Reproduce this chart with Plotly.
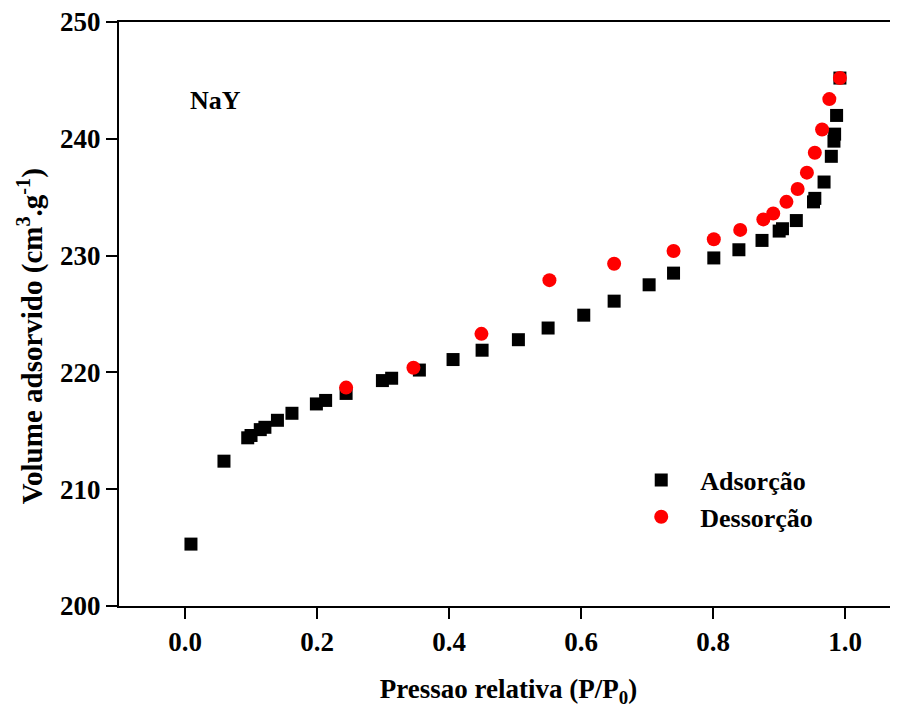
import plotly.graph_objects as go

ads_x = [0.009, 0.059, 0.095, 0.100, 0.114, 0.121, 0.140, 0.162, 0.199, 0.213, 0.244,
         0.299, 0.313, 0.355, 0.406, 0.450, 0.505, 0.550, 0.604, 0.650, 0.703, 0.740,
         0.801, 0.839, 0.874, 0.900, 0.905, 0.926, 0.952, 0.954, 0.968, 0.979, 0.983,
         0.984, 0.987, 0.992]
ads_y = [205.3, 212.4, 214.4, 214.6, 215.1, 215.3, 215.9, 216.5, 217.3, 217.6, 218.2,
         219.3, 219.5, 220.2, 221.1, 221.9, 222.8, 223.8, 224.9, 226.1, 227.5, 228.5,
         229.8, 230.5, 231.3, 232.1, 232.3, 233.0, 234.6, 234.9, 236.3, 238.5, 239.8,
         240.4, 242.0, 245.2]

des_x = [0.244, 0.346, 0.449, 0.552, 0.650, 0.740, 0.801, 0.841, 0.876, 0.891, 0.911,
         0.928, 0.942, 0.954, 0.965, 0.976, 0.992]
des_y = [218.7, 220.4, 223.3, 227.9, 229.3, 230.4, 231.4, 232.2, 233.1, 233.6, 234.6,
         235.7, 237.1, 238.8, 240.8, 243.4, 245.2]

x_ticks = [0.0, 0.2, 0.4, 0.6, 0.8, 1.0]
y_ticks = [200, 210, 220, 230, 240, 250]

FONT = "Liberation Serif"

fig = go.Figure()
fig.add_trace(go.Scatter(x=ads_x, y=ads_y, mode="markers", name="<b>Adsorção</b>",
                         marker=dict(symbol="square", size=13, color="black")))
fig.add_trace(go.Scatter(x=des_x, y=des_y, mode="markers", name="<b>Dessorção</b>",
                         marker=dict(symbol="circle", size=14, color="#ff0000")))

fig.add_annotation(x=0.005, y=243.3, text="<b>NaY</b>", showarrow=False,
                   xanchor="left", yanchor="middle",
                   font=dict(family=FONT, size=26, color="black"))

# y-axis title
fig.add_annotation(xref="paper", yref="paper", x=-0.1142, y=0.462,
                   text="<b>Volume adsorvido (cm<sup>3</sup>.g<sup>-1</sup>)</b>",
                   textangle=-90, showarrow=False, xanchor="center", yanchor="middle",
                   font=dict(family=FONT, size=29, color="black"))

fig.update_layout(
    width=890, height=700,
    margin=dict(l=111, r=0, t=14, b=102),
    plot_bgcolor="white", paper_bgcolor="white",
    font=dict(family=FONT, size=26, color="black"),
    showlegend=True,
    legend=dict(x=0.646, y=0.256, xanchor="left", yanchor="top",
                font=dict(family=FONT, size=26, color="black"),
                bgcolor="rgba(0,0,0,0)", itemsizing="trace", itemwidth=68,
                tracegroupgap=0),
    xaxis=dict(range=[-0.1, 1.08], tickvals=x_ticks,
               ticktext=[f"<b>{v:.1f}</b>" for v in x_ticks],
               tickfont=dict(family=FONT, size=27), ticklabeloverflow="allow",
               showgrid=False, zeroline=False, showline=True, linecolor="black",
               linewidth=2, mirror=True, ticks="outside", ticklen=11, tickwidth=2,
               tickcolor="black",
               title=dict(text="<b>Pressao relativa (P/P<sub>0</sub>)</b>",
                          font=dict(family=FONT, size=27), standoff=23)),
    yaxis=dict(range=[200, 250], tickvals=y_ticks,
               ticktext=[f"<b>{v}</b>" for v in y_ticks],
               tickfont=dict(family=FONT, size=27), ticklabeloverflow="allow",
               showgrid=False, zeroline=False, showline=True, linecolor="black",
               linewidth=2, mirror=False, ticks="outside", ticklen=11, tickwidth=2,
               tickcolor="black"),
)

fig.write_html("out.html")
